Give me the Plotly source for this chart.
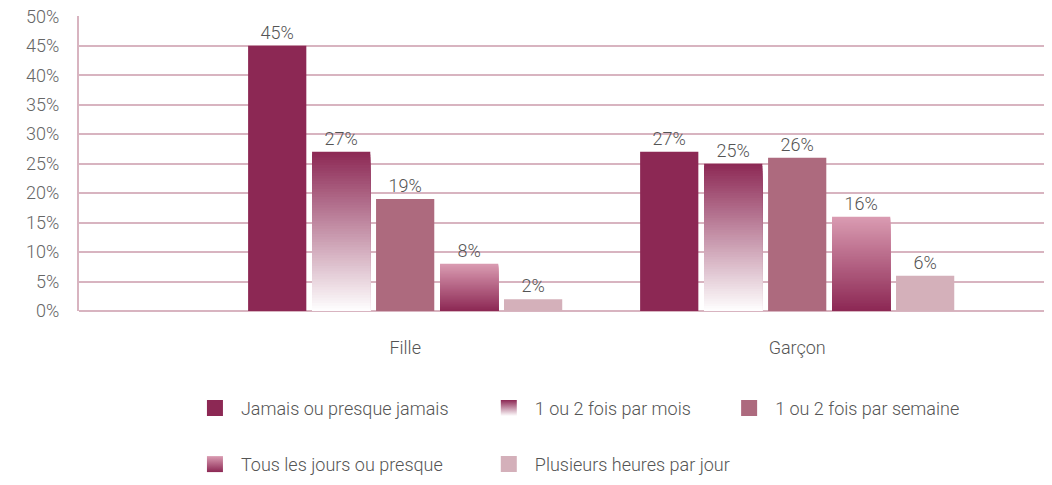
import plotly.graph_objects as go

categories = ["Fille", "Garçon"]
series_names = [
    "Jamais ou presque jamais",
    "1 ou 2 fois par mois",
    "1 ou 2 fois par semaine",
    "Tous les jours ou presque",
    "Plusieurs heures par jour",
]
jamais = [0.45, 0.27]
par_mois = [0.27, 0.25]
par_semaine = [0.19, 0.26]
tous_les_jours = [0.08, 0.16]
plusieurs_heures = [0.02, 0.06]
y_ticks = [0, 0.05, 0.10, 0.15, 0.20, 0.25, 0.30, 0.35, 0.40, 0.45, 0.50]

values = [jamais, par_mois, par_semaine, tous_les_jours, plusieurs_heures]

DARK = (140, 40, 84)
WHITE = (255, 255, 255)
PINK = (218, 156, 178)
MID = "#ad6a7e"
LIGHT = "#d4b0ba"
GRID = "#d8b4c0"
TEXT = "#555555"
FONT_SIZE = 18

# gradients: (bottom colour, top colour) or a solid colour
styles = [
    "#8c2854",
    (WHITE, DARK),
    MID,
    (DARK, PINK),
    LIGHT,
]

N_SLICES = 60


def mix(c0, c1, t):
    return "rgb(%d,%d,%d)" % tuple(round(a + (b - a) * t) for a, b in zip(c0, c1))


fig = go.Figure()

for k, (name, vals, style) in enumerate(zip(series_names, values, styles)):
    grp = "s%d" % k
    solid = isinstance(style, str)
    # full bar (carries the label)
    fig.add_trace(go.Bar(
        x=categories, y=vals, name=name, offsetgroup=grp,
        marker=dict(color=style if solid else "rgba(0,0,0,0)", line=dict(width=0)),
        text=["%d%%" % round(v * 100) for v in vals],
        textposition="outside", cliponaxis=False,
        textfont=dict(color=TEXT, size=FONT_SIZE),
        showlegend=False, hoverinfo="x+y+name",
    ))
    if not solid:
        # vertical gradient: bars of the same group from tallest to shortest,
        # each shorter one painting over the lower part of the previous one
        c0, c1 = style
        for i in range(N_SLICES):
            frac = (N_SLICES - i) / N_SLICES
            t = (N_SLICES - i - 0.5) / N_SLICES
            fig.add_trace(go.Bar(
                x=categories,
                y=[v * frac for v in vals],
                offsetgroup=grp,
                marker=dict(color=mix(c0, c1, t), line=dict(width=0)),
                showlegend=False, hoverinfo="skip",
            ))

# legend proxies (one legend box per entry to match the layout)
legend_pos = [(0.113, -0.33), (0.415, -0.33), (0.662, -0.33),
              (0.113, -0.52), (0.415, -0.52)]
for k, (name, style) in enumerate(zip(series_names, styles)):
    lg = "legend" if k == 0 else "legend%d" % (k + 1)
    if isinstance(style, str):
        marker = dict(symbol="square", size=16, color=style)
    else:
        c0, c1 = style
        marker = dict(symbol="square", size=16, color=mix(c1, c1, 0),
                      gradient=dict(type="vertical", color=mix(c0, c0, 0)))
    fig.add_trace(go.Scatter(
        x=[None], y=[None], mode="markers", name=name, marker=marker,
        legend=lg, showlegend=True, hoverinfo="skip",
    ))

legends = {}
for k, (lx, ly) in enumerate(legend_pos):
    lg = "legend" if k == 0 else "legend%d" % (k + 1)
    legends[lg] = dict(x=lx, y=ly, xanchor="left", yanchor="middle",
                       bgcolor="rgba(0,0,0,0)", itemclick=False, itemwidth=42,
                       font=dict(color=TEXT, size=FONT_SIZE))

# the page puts the figure 8px in from the top-left corner
fig.update_layout(
    width=1044, height=477,
    margin=dict(l=71, r=0, t=8, b=174, autoexpand=False),
    paper_bgcolor="white", plot_bgcolor="white",
    barmode="group", bargap=0.184, bargroupgap=0.09,
    font=dict(family="Roboto", color=TEXT, size=FONT_SIZE, weight=300),
    showlegend=True,
    **legends,
)
fig.update_xaxes(
    range=[-0.832, 1.65], showgrid=False, zeroline=False, showline=False,
    automargin=False,
    ticks="", ticklabelstandoff=24, tickfont=dict(size=FONT_SIZE, color=TEXT),
)
fig.update_yaxes(
    range=[0, 0.5005], tickvals=y_ticks, tickformat=".0%",
    automargin=False, ticklabeloverflow="allow",
    showgrid=True, gridcolor=GRID, gridwidth=2,
    zeroline=True, zerolinecolor=GRID, zerolinewidth=2,
    showline=True, linecolor=GRID, linewidth=2,
    ticks="", ticklabelstandoff=14, tickfont=dict(size=FONT_SIZE, color="#666666"),
)

fig.write_html("out.html")
